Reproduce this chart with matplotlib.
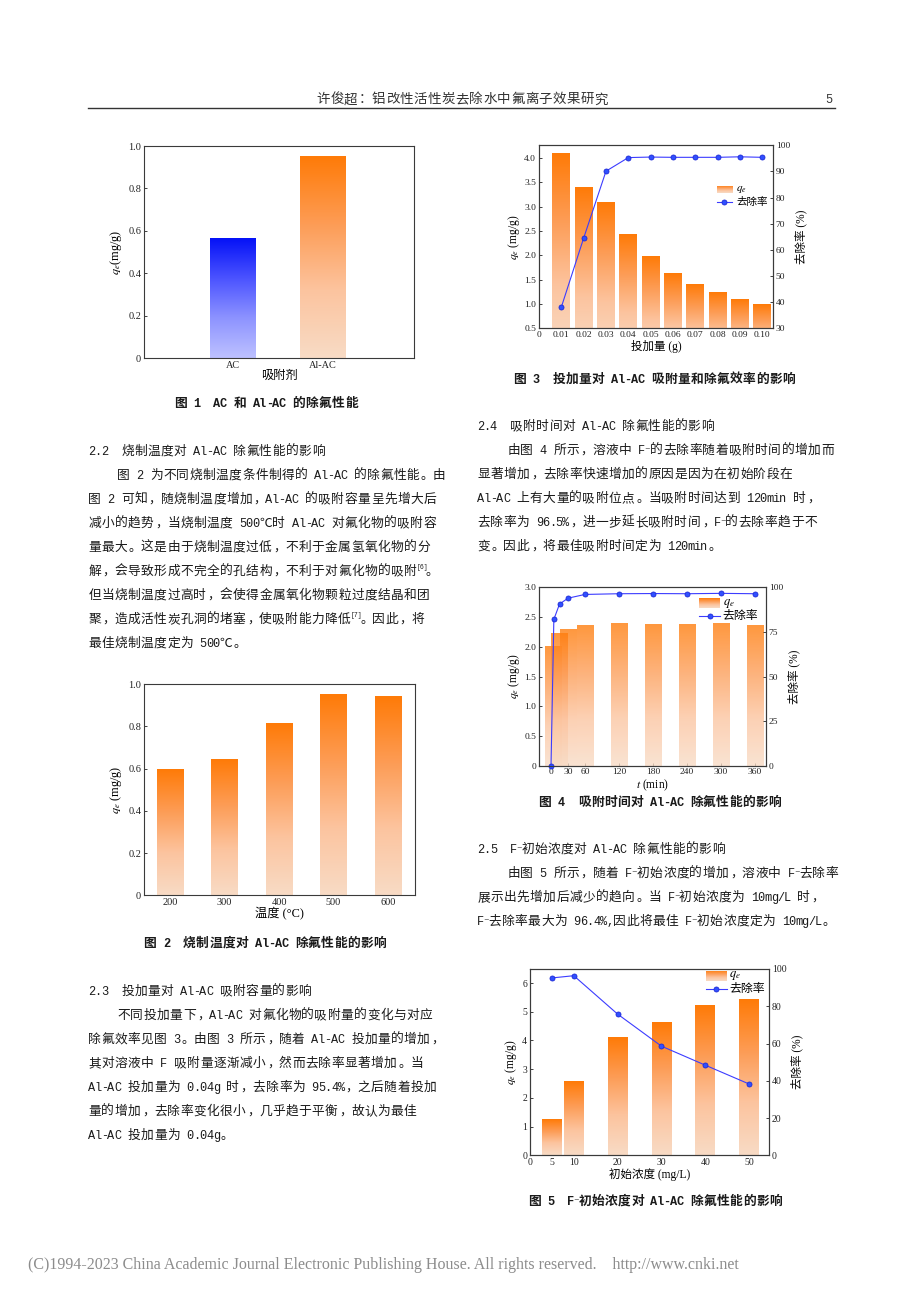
import numpy as np
import matplotlib
matplotlib.use("Agg")
import matplotlib.pyplot as plt
from matplotlib.colors import LinearSegmentedColormap
from matplotlib.ticker import FormatStrFormatter, FuncFormatter
from matplotlib.lines import Line2D

W, H = 920, 1302

# ---------------- data ----------------
# Fig 1: AC vs Al-AC
sorbents = ['AC', 'Al-AC']
qe_sorbent = [0.563, 0.950]

# Fig 2: calcination temperature
temps = ['200', '300', '400', '500', '600']
qe_temp = [0.597, 0.641, 0.812, 0.951, 0.943]

# Fig 3: dosage
dose = [0.01, 0.02, 0.03, 0.04, 0.05, 0.06, 0.07, 0.08, 0.09, 0.10]
qe_dose = [4.08, 3.38, 3.08, 2.42, 1.96, 1.62, 1.40, 1.23, 1.09, 0.99]
rem_dose = [38.1, 64.5, 90.1, 95.3, 95.5, 95.4, 95.4, 95.4, 95.6, 95.4]

# Fig 4: contact time
t_bar = [5, 15, 30, 60, 120, 180, 240, 300, 360]
qe_time = [2.01, 2.23, 2.30, 2.36, 2.39, 2.38, 2.38, 2.39, 2.37]
t_line = [0, 5, 15, 30, 60, 120, 180, 240, 300, 360]
rem_time = [0, 82.0, 90.6, 93.9, 96.0, 96.4, 96.5, 96.4, 96.6, 96.4]

# Fig 5: initial concentration
conc = [5, 10, 20, 30, 40, 50]
qe_conc = [1.22, 2.56, 4.09, 4.60, 5.20, 5.41]
rem_conc = [95.2, 96.4, 75.8, 58.6, 48.4, 38.3]

# ---------------- page text ----------------
header = '许俊超：铝改性活性炭去除水中氟离子效果研究'
page_no = '5'
footer = '(C)1994-2023 China Academic Journal Electronic Publishing House. All rights reserved.    http://www.cnki.net'

captions = [
    (266, 402, '图 1  AC 和 Al-AC 的除氟性能'),
    (265, 942, '图 2  烧制温度对 Al-AC 除氟性能的影响'),
    (654, 378, '图 3  投加量对 Al-AC 吸附量和除氟效率的影响'),
    (660, 801, '图 4  吸附时间对 Al-AC 除氟性能的影响'),
    (655, 1200, '图 5  F⁻初始浓度对 Al-AC 除氟性能的影响'),
]

left_col = [
    (88, 450, '2.2  烧制温度对 Al-AC 除氟性能的影响'),
    (117, 474, '图 2 为不同烧制温度条件制得的 Al-AC 的除氟性能。由'),
    (88, 498, '图 2 可知，随烧制温度增加，Al-AC 的吸附容量呈先增大后'),
    (88, 522, '减小的趋势，当烧制温度 500℃时 Al-AC 对氟化物的吸附容'),
    (88, 546, '量最大。这是由于烧制温度过低，不利于金属氢氧化物的分'),
    (88, 570, '解，会导致形成不完全的孔结构，不利于对氟化物的吸附{6}。'),
    (88, 594, '但当烧制温度过高时，会使得金属氧化物颗粒过度结晶和团'),
    (88, 618, '聚，造成活性炭孔洞的堵塞，使吸附能力降低{7}。因此，将'),
    (88, 642, '最佳烧制温度定为 500℃。'),
    (88, 990, '2.3  投加量对 Al-AC 吸附容量的影响'),
    (117, 1014, '不同投加量下，Al-AC 对氟化物的吸附量的变化与对应'),
    (88, 1038, '除氟效率见图 3。由图 3 所示，随着 Al-AC 投加量的增加，'),
    (88, 1062, '其对溶液中 F 吸附量逐渐减小，然而去除率显著增加。当'),
    (88, 1086, 'Al-AC 投加量为 0.04g 时，去除率为 95.4%，之后随着投加'),
    (88, 1110, '量的增加，去除率变化很小，几乎趋于平衡，故认为最佳'),
    (88, 1134, 'Al-AC 投加量为 0.04g。'),
]

right_col = [
    (477, 425, '2.4  吸附时间对 Al-AC 除氟性能的影响'),
    (507, 449, '由图 4 所示，溶液中 F⁻的去除率随着吸附时间的增加而'),
    (477, 473, '显著增加，去除率快速增加的原因是因为在初始阶段在'),
    (477, 497, 'Al-AC 上有大量的吸附位点。当吸附时间达到 120min 时，'),
    (477, 521, '去除率为 96.5%，进一步延长吸附时间，F⁻的去除率趋于不'),
    (477, 545, '变。因此，将最佳吸附时间定为 120min。'),
    (477, 848, '2.5  F⁻初始浓度对 Al-AC 除氟性能的影响'),
    (507, 872, '由图 5 所示，随着 F⁻初始浓度的增加，溶液中 F⁻去除率'),
    (477, 896, '展示出先增加后减少的趋向。当 F⁻初始浓度为 10mg/L 时，'),
    (477, 920, 'F⁻去除率最大为 96.4%,因此将最佳 F⁻初始浓度定为 10mg/L。'),
]

# ---------------- style ----------------
plt.rcParams['font.family'] = ['Liberation Serif', 'Noto Sans CJK SC']
plt.rcParams['mathtext.fontset'] = 'stix'
plt.rcParams['axes.edgecolor'] = '#3a3a3a'
plt.rcParams['axes.linewidth'] = 0.8

CJK = ['Noto Sans CJK SC', 'DejaVu Sans']
MONO = ['Liberation Mono', 'DejaVu Sans Mono']
EM = 13.15
PUNCT = '，。、；：'

ORANGE = LinearSegmentedColormap.from_list('orange', ['#f8dbc5', '#fcc49f', '#fd9c55', '#ff7b08'])
BLUE = LinearSegmentedColormap.from_list('blue', ['#bdc1ff', '#8d93ff', '#4b53ff', '#0512f7'])
GRAD = np.linspace(0, 1, 200).reshape(-1, 1)
LINE_KW = dict(color='#3c3cff', lw=0.8, marker='o', ms=3.6, mfc='#3050ff', mec='#1e2ad6', mew=0.6)
TICK = 7.4
LAB = 8.8

fig = plt.figure(figsize=(W / 100, H / 100), dpi=100)
fig.patch.set_facecolor('white')


def fx(x):
    return x / W


def fy(y):
    return 1 - y / H


def write(x, y, s, bold=False, center=False, color='#1a1a1a', em=EM):
    # lay out a line char by char: full-width cells for CJK, half cells for latin
    items = []
    i = 0
    while i < len(s):
        ch = s[i]
        if ch == '{':
            j = s.index('}', i)
            items.append(('[' + s[i + 1:j] + ']', 0.6, 'sup'))
            i = j + 1
            continue
        if ch == '⁻':
            items.append((ch, 0.35, 'minus'))
        elif ord(ch) < 0x2000:
            items.append((ch, 0.5, 'latin'))
        else:
            items.append((ch, 1.0, 'cjk'))
        i += 1
    if center:
        x -= sum(a for _, a, _ in items) * em / 2
    weight = 'bold' if bold else 'normal'
    base = y + 0.38 * em
    pt = em * 0.72
    for ch, adv, kind in items:
        w = adv * em
        if kind == 'cjk':
            if ch in PUNCT:
                fig.text(fx(x + 0.1 * em), fy(base), ch, ha='left', va='baseline',
                         fontsize=pt * 0.97, family=CJK, weight=weight, color=color)
            else:
                fig.text(fx(x + w / 2), fy(base), ch, ha='center', va='baseline',
                         fontsize=pt * 0.97, family=CJK, weight=weight, color=color)
        elif kind == 'latin':
            if ch != ' ':
                fig.text(fx(x + w / 2), fy(base), ch, ha='center', va='baseline',
                         fontsize=pt * 0.9, family=MONO, weight=weight, color=color)
        elif kind == 'minus':
            fig.text(fx(x + w / 2), fy(base), ch, ha='center', va='baseline',
                     fontsize=pt * 0.8, family=['DejaVu Sans'], color=color)
        else:
            fig.text(fx(x), fy(base - 0.45 * em), ch, ha='left', va='baseline',
                     fontsize=pt * 0.5, family=MONO, color=color)
        x += w


def gradient_bars(ax, x, h, width, cmap, alpha=1.0):
    bars = ax.bar(x, h, width, color='none', edgecolor='none', zorder=2)
    for b in bars:
        x0, y0, bw, bh = b.get_x(), b.get_y(), b.get_width(), b.get_height()
        ax.imshow(GRAD, extent=[x0, x0 + bw, y0, y0 + bh], origin='lower', cmap=cmap,
                  aspect='auto', alpha=alpha, zorder=2, interpolation='bilinear')
    return bars


def style(ax, size=TICK):
    ax.tick_params(direction='in', length=2, width=0.6, labelsize=size, pad=2, colors='#222222')


def one_dec(v, _):
    return '0' if abs(v) < 1e-9 else '%.1f' % v


def legend(ax, sw, line_y, tx, fs=8):
    # sw = [x0, y0, w, h] of the gradient swatch in axes fraction
    iax = ax.inset_axes(sw)
    iax.imshow(GRAD, origin='lower', cmap=ORANGE, aspect='auto', extent=[0, 1, 0, 1])
    iax.axis('off')
    ax.text(tx, sw[1] + sw[3] / 2, r'$q_e$', transform=ax.transAxes, fontsize=fs, va='center')
    ax.plot([sw[0], sw[0] + sw[2]], [line_y, line_y], transform=ax.transAxes,
            color=LINE_KW['color'], lw=0.8, clip_on=False)
    ax.plot([sw[0] + sw[2] / 2], [line_y], transform=ax.transAxes, clip_on=False,
            marker='o', ms=3.6, mfc='#3050ff', mec='#1e2ad6', mew=0.6, ls='none')
    ax.text(tx, line_y, '去除率', transform=ax.transAxes, fontsize=fs * 0.95, va='center')


# ---------------- Fig 1 ----------------
ax1 = fig.add_axes([fx(144), fy(358), 270 / W, 212 / H])
x1 = np.arange(len(sorbents))
gradient_bars(ax1, x1[:1], qe_sorbent[:1], 0.5, BLUE)
gradient_bars(ax1, x1[1:], qe_sorbent[1:], 0.5, ORANGE)
ax1.set_xlim(-0.978, 2.006)
ax1.set_ylim(0, 1)
ax1.set_xticks(x1, sorbents)
ax1.set_yticks(np.arange(0, 1.01, 0.2))
ax1.yaxis.set_major_formatter(FuncFormatter(one_dec))
style(ax1)
ax1.set_xlabel('吸附剂', fontsize=LAB, labelpad=0)
ax1.set_ylabel(r'$q_e$(mg/g)', fontsize=LAB, labelpad=3)

# ---------------- Fig 2 ----------------
ax2 = fig.add_axes([fx(144), fy(895.3), 271 / W, 211 / H])
x2 = np.arange(len(temps))
gradient_bars(ax2, x2, qe_temp, 0.495, ORANGE)
ax2.set_xlim(-0.477, 4.495)
ax2.set_ylim(0, 1)
ax2.set_xticks(x2, temps)
ax2.set_yticks(np.arange(0, 1.01, 0.2))
ax2.yaxis.set_major_formatter(FuncFormatter(one_dec))
style(ax2)
ax2.set_xlabel('温度 (°C)', fontsize=LAB, labelpad=0)
ax2.set_ylabel(r'$q_e$ (mg/g)', fontsize=LAB, labelpad=3)

# ---------------- Fig 3 ----------------
ax3 = fig.add_axes([fx(539), fy(328.3), 234 / W, 183 / H])
gradient_bars(ax3, dose, qe_dose, 0.008, ORANGE)
ax3.set_xlim(0, 0.1048)
ax3.set_ylim(0.5, 4.26)
ax3.set_xticks([0] + dose, ['0'] + ['%.2f' % d for d in dose])
ax3.set_yticks(np.arange(0.5, 4.01, 0.5))
ax3.yaxis.set_major_formatter(FormatStrFormatter('%.1f'))
style(ax3, 6.8)
ax3.set_xlabel('投加量 (g)', fontsize=8.3, labelpad=1)
ax3.set_ylabel(r'$q_e$ (mg/g)', fontsize=8.3, labelpad=2)
ax3r = ax3.twinx()
ax3r.plot(dose, rem_dose, **LINE_KW)
ax3r.set_ylim(30, 100)
ax3r.set_yticks(np.arange(30, 101, 10))
style(ax3r, 6.8)
ax3r.set_ylabel('去除率 (%)', fontsize=8.3, labelpad=3)
legend(ax3r, [0.759, 0.738, 0.065, 0.040], 0.692, 0.842, fs=8)

# ---------------- Fig 4 ----------------
ax4 = fig.add_axes([fx(539), fy(765.7), 227 / W, 178.4 / H])
gradient_bars(ax4, t_bar, qe_time, 30, ORANGE, alpha=0.78)
ax4.set_xlim(-21.2, 379.4)
ax4.set_ylim(0, 3.0)
ax4.set_xticks([0, 30, 60, 120, 180, 240, 300, 360])
ax4.set_yticks(np.arange(0, 3.01, 0.5))
ax4.yaxis.set_major_formatter(FuncFormatter(one_dec))
style(ax4, 6.8)
ax4.set_xlabel(r'$t$ (min)', fontsize=8.3, labelpad=1)
ax4.set_ylabel(r'$q_e$ (mg/g)', fontsize=8.3, labelpad=2)
ax4r = ax4.twinx()
ax4r.plot(t_line, rem_time, clip_on=False, **LINE_KW)
ax4r.set_ylim(0, 100)
ax4r.set_yticks([0, 25, 50, 75, 100])
style(ax4r, 6.8)
ax4r.set_ylabel('去除率 (%)', fontsize=8.3, labelpad=3)
legend(ax4r, [0.706, 0.882, 0.091, 0.056], 0.841, 0.81, fs=9)

# ---------------- Fig 5 ----------------
ax5 = fig.add_axes([fx(530), fy(1155.3), 239 / W, 186.3 / H])
gradient_bars(ax5, conc, qe_conc, 4.5, ORANGE)
ax5.set_xlim(0, 54.57)
ax5.set_ylim(0, 6.49)
ax5.set_xticks([0] + conc)
ax5.set_yticks(np.arange(0, 7, 1))
style(ax5, 7)
ax5.set_xlabel('初始浓度 (mg/L)', fontsize=8.3, labelpad=1)
ax5.set_ylabel(r'$q_e$ (mg/g)', fontsize=8.3, labelpad=2)
ax5r = ax5.twinx()
ax5r.plot(conc, rem_conc, **LINE_KW)
ax5r.set_ylim(0, 100)
ax5r.set_yticks(np.arange(0, 101, 20))
style(ax5r, 7)
ax5r.set_ylabel('去除率 (%)', fontsize=8.3, labelpad=3)
legend(ax5r, [0.736, 0.936, 0.087, 0.055], 0.893, 0.833, fs=9)

# ---------------- page text ----------------
write(462, 98, header, center=True, color='#333333', em=13.9)
write(825.6, 98, page_no, color='#333333')
fig.add_artist(Line2D([fx(88), fx(835)], [fy(108), fy(108)], color='#333333', lw=1.0))

for cx, cy, s in captions:
    write(cx, cy, s, bold=True, center=True)
for x, y, s in left_col + right_col:
    write(x, y, s)

fig.text(fx(28), fy(1265), footer, family='Liberation Serif', fontsize=11.5,
         color='#8c8c8c', va='center', ha='left')

fig.savefig('out.png', dpi=100, facecolor='white')
